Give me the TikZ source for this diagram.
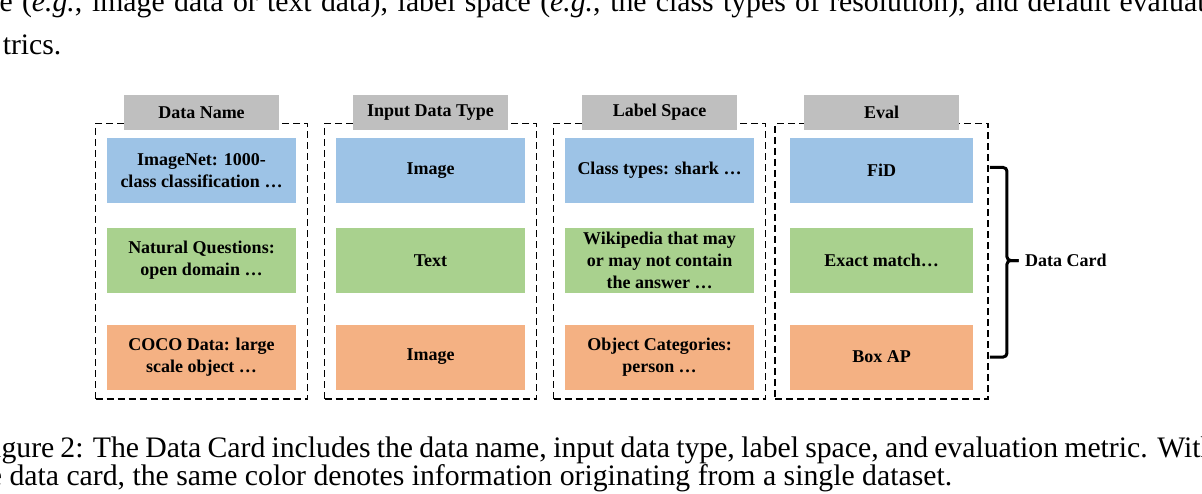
\documentclass[tikz,border=0pt]{standalone}
\usepackage{fontspec}
\setmainfont{Liberation Serif}
\usepackage{xcolor}
\usepackage{tikz}
\usetikzlibrary{positioning,fit,backgrounds,calc}

\definecolor{cardblue}{RGB}{157,195,230}
\definecolor{cardgreen}{RGB}{169,209,142}
\definecolor{cardorange}{RGB}{244,177,131}
\definecolor{cardgray}{RGB}{191,191,191}

\begin{document}
\begin{tikzpicture}[
  font=\fontsize{7.2}{8.7}\selectfont\bfseries,
  cardcell/.style={minimum width=75.6pt, minimum height=26pt, align=center, inner sep=0.5pt},
  cardhead/.style={fill=cardgray, minimum width=62pt, minimum height=14pt, inner sep=1pt},
  cardcol/.style={draw, dash pattern=on 2.8pt off 1.6pt, line width=0.75pt, inner xsep=4.4pt, inner ysep=4.6pt, yshift=1pt},
  bracket/.style={line width=1.2pt, rounded corners=1.5pt},
  bodytext/.style={font=\normalfont\fontsize{11.9}{14}\selectfont, inner sep=0pt, anchor=base west}
]
\useasboundingbox (0,0) rectangle (480.8pt,-197.6pt);
\clip (0,0) rectangle (480.8pt,-197.6pt);

\node[cardcell, fill=cardblue] (imagenet) at (80.6pt,-68.2pt) {ImageNet: 1000-\\class classification …};
\node[cardcell, fill=cardgreen, below=9.6pt of imagenet] (nq) {Natural Questions:\\open domain …};
\node[cardcell, fill=cardorange, below=12.2pt of nq] (coco) {COCO Data: large\\scale object …};

\node[cardcell, fill=cardblue, right=15.6pt of imagenet] (typeimg) {Image};
\node[cardcell, fill=cardgreen, below=9.6pt of typeimg] (typetext) {Text};
\node[cardcell, fill=cardorange, below=12.2pt of typetext] (typecoco) {Image};

\node[cardcell, fill=cardblue, right=15.6pt of typeimg] (shark) {Class types: shark …};
\node[cardcell, fill=cardgreen, below=9.6pt of shark] (wiki) {Wikipedia that may\\or may not contain\\the answer …};
\node[cardcell, fill=cardorange, below=12.2pt of wiki] (objcat) {Object Categories:\\person …};

\node[cardcell, fill=cardblue, minimum width=73.2pt, right=14pt of shark] (fid) {FiD};
\node[cardcell, fill=cardgreen, minimum width=73.2pt, below=9.6pt of fid] (exact) {Exact match…};
\node[cardcell, fill=cardorange, minimum width=73.2pt, below=12.2pt of exact] (boxap) {Box AP};

\node[cardhead, above=2.8pt of imagenet] (namehead) {Data Name};
\node[cardhead, above=2.8pt of typeimg] (typehead) {Input Data Type};
\node[cardhead, above=2.8pt of shark] (labelhead) {Label Space};
\node[cardhead, above=2.8pt of fid] (evalhead) {Eval};

\begin{scope}[on background layer]
\node[cardcol, fit=(imagenet)(coco)] (namecol) {};
\node[cardcol, fit=(typeimg)(typecoco)] (typecol) {};
\node[cardcol, fit=(shark)(objcat)] (labelcol) {};
\node[cardcol, inner xsep=5.8pt, fit=(fid)(boxap)] (evalcol) {};
\end{scope}

\node[right=18pt of exact, inner sep=2.4pt] (datacard) {Data Card};
\draw[bracket] ([xshift=0.4pt,yshift=1.2pt]evalcol.east |- fid.east) -- ++(6.8pt,0) |- (datacard.west);
\draw[bracket] ([xshift=0.4pt]evalcol.east |- boxap.east) -- ++(6.8pt,0) |- (datacard.west);

\node[bodytext] (intro) at (-0.4pt,-4.8pt) {\makebox[482.4pt][s]{\llap{typ}e (\textit{e.g.}, image data or text data), label space (\textit{e.g.}, the class types of resolution), and default evaluat\rlap{ion me-}}};
\node[bodytext] (introend) at (0.9pt,-22pt) {trics.};
\node[bodytext] (caption) at (0.4pt,-182.8pt) {\makebox[479.6pt][s]{\llap{Fi}gure 2: The Data Card includes the data name, input data type, label space, and evaluation metric. Wit\rlap{hin}}};
\node[bodytext] (captionend) at (3.6pt,-194pt) {\llap{the }data card, the same color denotes information originating from a single dataset.};
\end{tikzpicture}
\end{document}
